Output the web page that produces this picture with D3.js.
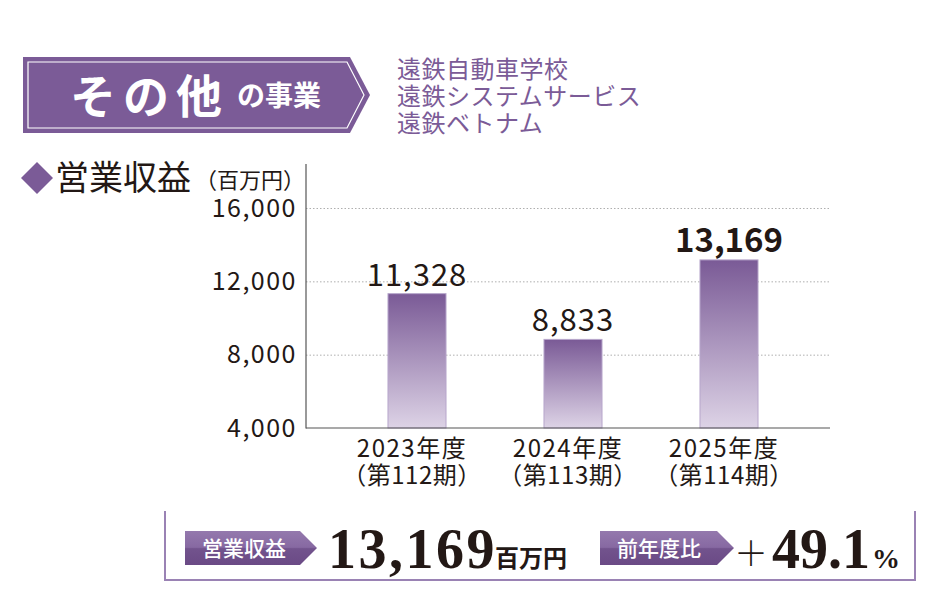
<!DOCTYPE html>
<html>
<head>
<meta charset="utf-8">
<script src="https://cdn.jsdelivr.net/npm/d3@7"></script>
<style>
  html, body { margin: 0; padding: 0; background: #fff; }
  svg { display: block; font-family: "Noto Sans CJK JP", "Noto Sans", sans-serif; }
</style>
</head>
<body>
<div id="chart"></div>
<script>
// data
const years = ["2023年度", "2024年度", "2025年度"];
const periods = ["（第112期）", "（第113期）", "（第114期）"];
const revenue = [11328, 8833, 13169];
const yTicks = [4000, 8000, 12000, 16000];
const companies = ["遠鉄自動車学校", "遠鉄システムサービス", "遠鉄ベトナム"];
const summaryValue = "13,169";
const summaryChange = "49.1";

const purple = "#7b5b97";
const ink = "#231815";

const width = 950, height = 600;
const svg = d3.select("#chart").append("svg")
  .attr("width", width)
  .attr("height", height);

const defs = svg.append("defs");

// bar gradient: dark purple on top fading to pale lavender
const barGrad = defs.append("linearGradient")
  .attr("id", "barGrad").attr("x1", 0).attr("y1", 0).attr("x2", 0).attr("y2", 1);
barGrad.append("stop").attr("offset", "0%").attr("stop-color", "#7a5a96");
barGrad.append("stop").attr("offset", "100%").attr("stop-color", "#ddd3e6");

// badge gradient: lighter upper half, darker lower half
const badgeGrad = defs.append("linearGradient")
  .attr("id", "badgeGrad").attr("x1", 0).attr("y1", 0).attr("x2", 0).attr("y2", 1);
badgeGrad.append("stop").attr("offset", "0%").attr("stop-color", "#9479ad");
badgeGrad.append("stop").attr("offset", "48%").attr("stop-color", "#8769a2");
badgeGrad.append("stop").attr("offset", "52%").attr("stop-color", "#72538d");
badgeGrad.append("stop").attr("offset", "100%").attr("stop-color", "#6a4a85");

// ---- header banner ----
const banner = svg.append("g").attr("class", "banner");
banner.append("path")
  .attr("d", "M23,57 L350,57 L370,95 L350,133 L23,133 Z")
  .attr("fill", purple);
banner.append("path")
  .attr("d", "M28,62 L347,62 L364,95 L347,128 L28,128 Z")
  .attr("fill", "none")
  .attr("stroke", "#fff")
  .attr("stroke-width", 1.2);
banner.append("text")
  .attr("x", 70).attr("y", 113)
  .attr("fill", "#fff")
  .attr("font-size", 46)
  .attr("font-weight", 700)
  .attr("letter-spacing", 7)
  .text("その他");
banner.append("text")
  .attr("x", 237).attr("y", 106)
  .attr("fill", "#fff")
  .attr("font-size", 28)
  .attr("font-weight", 700)
  .text("の事業");

svg.append("g").attr("class", "companies")
  .selectAll("text")
  .data(companies)
  .join("text")
  .attr("x", 397)
  .attr("y", (d, i) => 78 + i * 27)
  .attr("fill", purple)
  .attr("font-size", 24)
  .attr("letter-spacing", 0.5)
  .text(d => d);

// ---- chart title ----
svg.append("path")
  .attr("d", "M37,162 L53,178 L37,194 L21,178 Z")
  .attr("fill", purple);
svg.append("text")
  .attr("x", 55).attr("y", 190)
  .attr("fill", ink)
  .attr("font-size", 34)
  .text("営業収益");
svg.append("text")
  .attr("x", 195).attr("y", 188)
  .attr("fill", ink)
  .attr("font-size", 22)
  .text("（百万円）");

// ---- bar chart ----
const axisX = 306, axisRight = 830;
const y = d3.scaleLinear().domain([4000, 16000]).range([428, 208]);
const x = d3.scaleBand()
  .domain(years)
  .range([339, 807])
  .paddingInner(0.628)
  .paddingOuter(0.314);

// dotted gridlines
svg.append("g").attr("class", "grid")
  .attr("transform", `translate(${axisX},0)`)
  .call(d3.axisLeft(y).tickValues(yTicks.slice(1)).tickSize(-(axisRight - axisX)).tickFormat(""))
  .call(g => g.select(".domain").remove())
  .call(g => g.selectAll("line")
    .attr("stroke", "#9a9a9a")
    .attr("stroke-width", 0.8)
    .attr("stroke-dasharray", "1.5,2"));

// y tick labels
svg.append("g").attr("class", "y-axis")
  .attr("transform", `translate(${axisX},0)`)
  .call(d3.axisLeft(y).tickValues(yTicks).tickSize(0).tickPadding(9).tickFormat(d3.format(",")))
  .call(g => g.select(".domain").remove())
  .call(g => g.selectAll("text")
    .attr("fill", ink)
    .attr("font-size", 25)
    .attr("letter-spacing", 1.5)
    .attr("font-family", "'Noto Sans CJK JP', sans-serif"));

// bars
svg.append("g").attr("class", "bars")
  .selectAll("rect")
  .data(revenue)
  .join("rect")
  .attr("x", (d, i) => x(years[i]))
  .attr("y", d => y(d))
  .attr("width", x.bandwidth())
  .attr("height", d => y(4000) - y(d))
  .attr("fill", "url(#barGrad)")
  .attr("stroke", "#b7a6cb")
  .attr("stroke-width", 1);

// value labels
svg.append("g").attr("class", "labels")
  .selectAll("text")
  .data(revenue)
  .join("text")
  .attr("x", (d, i) => x(years[i]) + x.bandwidth() / 2)
  .attr("y", d => y(d) - 8)
  .attr("text-anchor", "middle")
  .attr("fill", ink)
  .attr("font-size", (d, i) => i === 2 ? 33 : 31)
  .attr("font-weight", (d, i) => i === 2 ? 700 : 400)
  .attr("letter-spacing", (d, i) => i === 2 ? 0 : 1)
  .text(d => d3.format(",")(d));

// axis lines
svg.append("line")
  .attr("x1", axisX).attr("x2", axisX)
  .attr("y1", 164).attr("y2", 428.5)
  .attr("stroke", "#555").attr("stroke-width", 1.2);
svg.append("line")
  .attr("x1", axisX).attr("x2", axisRight)
  .attr("y1", 428).attr("y2", 428)
  .attr("stroke", "#555").attr("stroke-width", 1.2);

// category labels, two lines
const xl = svg.append("g").attr("class", "x-labels")
  .selectAll("g")
  .data(years)
  .join("g")
  .attr("transform", d => `translate(${x(d) + x.bandwidth() / 2 - 5},0)`);
xl.append("text")
  .attr("y", 457)
  .attr("text-anchor", "middle")
  .attr("fill", ink)
  .attr("font-size", 24)
  .attr("letter-spacing", 1.5)
  .text(d => d);
xl.append("text")
  .attr("y", 484)
  .attr("text-anchor", "middle")
  .attr("fill", ink)
  .attr("font-size", 24)
  .attr("letter-spacing", 0.5)
  .text((d, i) => periods[i]);

// ---- summary box ----
svg.append("path")
  .attr("d", "M165,511 L165,580 L915,580 L915,511")
  .attr("fill", "none")
  .attr("stroke", "#9a82b4")
  .attr("stroke-width", 2);

function badge(x0, w, label) {
  const g = svg.append("g");
  g.append("path")
    .attr("d", `M${x0},531 L${x0 + w},531 L${x0 + w + 17},548 L${x0 + w},565 L${x0},565 Z`)
    .attr("fill", "url(#badgeGrad)");
  g.append("text")
    .attr("x", x0 + 17).attr("y", 556)
    .attr("fill", "#fff")
    .attr("font-size", 21)
    .attr("font-weight", 500)
    .text(label);
}
badge(185, 115, "営業収益");
badge(600, 117, "前年度比");

svg.append("text")
  .attr("x", 328).attr("y", 568)
  .attr("fill", ink)
  .attr("font-family", "'Liberation Serif', serif")
  .attr("font-size", 56)
  .attr("font-weight", 700)
  .attr("letter-spacing", 2.5)
  .text(summaryValue);
svg.append("text")
  .attr("x", 495).attr("y", 567)
  .attr("fill", ink)
  .attr("font-size", 24)
  .attr("font-weight", 700)
  .text("百万円");

svg.append("text")
  .attr("x", 734).attr("y", 566)
  .attr("fill", ink)
  .attr("font-size", 34)
  .attr("font-weight", 300)
  .text("＋");
svg.append("text")
  .attr("x", 772).attr("y", 568)
  .attr("fill", ink)
  .attr("font-family", "'Liberation Serif', serif")
  .attr("font-size", 56)
  .attr("font-weight", 700)
  .text(summaryChange);
svg.append("text")
  .attr("x", 872).attr("y", 568)
  .attr("fill", ink)
  .attr("font-family", "'Liberation Serif', serif")
  .attr("font-size", 28)
  .attr("font-weight", 700)
  .text("%");
</script>
</body>
</html>
